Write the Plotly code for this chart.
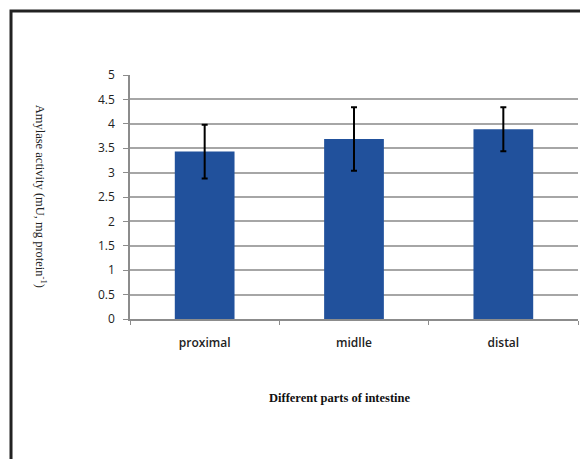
import plotly.graph_objects as go

categories = ["proximal", "midlle", "distal"]
values = [3.43, 3.69, 3.89]
errors = [0.55, 0.65, 0.45]
y_ticks = [0, 0.5, 1, 1.5, 2, 2.5, 3, 3.5, 4, 4.5, 5]
y_tick_labels = ["0", "0.5", "1", "1.5", "2", "2.5", "3", "3.5", "4", "4.5", "5"]

fig = go.Figure()
fig.add_trace(go.Bar(
    x=categories, y=values, width=0.4,
    marker=dict(color="#21519c", line=dict(width=0)),
    error_y=dict(type="data", array=errors, visible=True, color="black",
                 thickness=2, width=3),
))

fig.update_layout(
    width=580, height=451,
    margin=dict(l=122, r=10, t=67, b=140),
    paper_bgcolor="white", plot_bgcolor="white",
    showlegend=False,
    xaxis=dict(
        showline=True, linecolor="#8c8c8c", linewidth=1.5,
        tickson="boundaries", ticks="outside", ticklen=4, tickcolor="#8c8c8c",
        tickfont=dict(family="Open Sans", size=12, color="#222", weight=600),
        showgrid=False, ticklabelstandoff=12,
    ),
    yaxis=dict(
        range=[0, 5], tickvals=y_ticks, ticktext=y_tick_labels,
        showline=True, linecolor="#8c8c8c", linewidth=1.5,
        ticks="outside", ticklen=5, tickcolor="#8c8c8c",
        showgrid=True, gridcolor="#a6a6a6", gridwidth=1.5,
        tickfont=dict(family="Open Sans", size=12, color="#222"),
        ticklabelstandoff=6, zeroline=False,
    ),
    shapes=[dict(type="rect", xref="paper", yref="paper",
                 x0=-0.2656, x1=1.2, y0=-0.8, y1=1.2623,
                 line=dict(color="#222", width=3), layer="below")],
    annotations=[
        dict(text="Amylase activity (mU, mg protein<sup>-1</sup>)",
             textangle=90, xref="paper", yref="paper", x=-0.198, y=0.504,
             xanchor="center", yanchor="middle",
             showarrow=False, font=dict(family="Liberation Serif", size=12.5, color="#222")),
        dict(text="<b>Different parts of intestine</b>",
             xref="paper", yref="paper", x=0.469, y=-0.324,
             xanchor="center", yanchor="middle",
             showarrow=False, font=dict(family="Liberation Serif", size=12.5, color="#111")),
    ],
)

fig.write_html("out.html")
